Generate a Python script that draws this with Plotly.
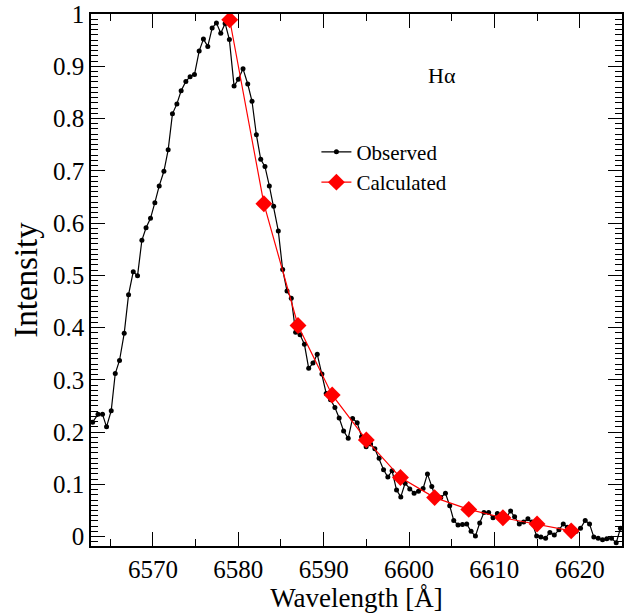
import plotly.graph_objects as go

# Observed spectrum (wavelength in Angstrom, normalized intensity)
obs_wl = [6562.94, 6563.57, 6564.10, 6564.57, 6565.12, 6565.59, 6566.09, 6566.64, 6567.15, 6567.70,
          6568.20, 6568.71, 6569.20, 6569.72, 6570.23, 6570.74, 6571.29, 6571.79, 6572.29, 6572.81,
          6573.31, 6573.86, 6574.36, 6574.87, 6575.42, 6575.92, 6576.43, 6576.94, 6577.44, 6577.95,
          6578.46, 6578.96, 6579.51, 6580.01, 6580.56, 6581.11, 6581.61, 6582.12, 6582.63, 6583.13,
          6583.64, 6584.15, 6584.69, 6585.20, 6585.71, 6586.21, 6586.72, 6587.24, 6587.75, 6588.25,
          6588.75, 6589.25, 6589.80, 6590.30, 6590.81, 6591.32, 6591.82, 6592.34, 6592.88, 6593.39,
          6593.93, 6594.44, 6594.98, 6595.50, 6596.00, 6596.50, 6597.02, 6597.52, 6598.02, 6598.54,
          6599.04, 6599.54, 6600.09, 6600.60, 6601.11, 6601.65, 6602.16, 6602.67, 6603.17, 6603.72,
          6604.27, 6604.77, 6605.24, 6605.74, 6606.26, 6606.76, 6607.27, 6607.78, 6608.28, 6608.78,
          6609.33, 6609.84, 6610.35, 6610.87, 6611.38, 6611.90, 6612.37, 6612.92, 6613.43, 6613.93,
          6614.40, 6614.95, 6615.45, 6616.00, 6616.50, 6617.02, 6617.56, 6618.07, 6618.54, 6619.06,
          6619.59, 6620.09, 6620.64, 6621.15, 6621.65, 6622.16, 6622.67, 6623.17, 6623.72, 6624.27,
          6624.77]
obs_int = [0.219, 0.234, 0.234, 0.210, 0.241, 0.312, 0.337, 0.389, 0.463, 0.507,
           0.499, 0.567, 0.591, 0.609, 0.639, 0.671, 0.699, 0.740, 0.809, 0.828,
           0.853, 0.871, 0.880, 0.884, 0.929, 0.952, 0.938, 0.973, 0.983, 0.963,
           0.982, 0.951, 0.862, 0.875, 0.895, 0.866, 0.833, 0.769, 0.722, 0.708,
           0.671, 0.632, 0.585, 0.511, 0.470, 0.456, 0.391, 0.386, 0.368, 0.322,
           0.332, 0.349, 0.311, 0.274, 0.262, 0.247, 0.227, 0.202, 0.188, 0.226,
           0.218, 0.191, 0.172, 0.177, 0.168, 0.150, 0.128, 0.114, 0.126, 0.089,
           0.076, 0.102, 0.091, 0.083, 0.087, 0.092, 0.120, 0.096, 0.072, 0.075,
           0.083, 0.059, 0.031, 0.022, 0.023, 0.024, 0.010, 0.001, 0.026, 0.046,
           0.046, 0.036, 0.044, 0.040, 0.036, 0.049, 0.038, 0.024, 0.028, 0.034,
           0.028, 0.001, -0.001, -0.003, 0.008, 0.003, 0.013, 0.024, 0.018, 0.012,
           0.010, 0.016, 0.031, 0.024, -0.001, -0.003, -0.006, -0.004, -0.003, -0.012,
           0.016]

# Calculated profile
calc_wl = [6579, 6583, 6587, 6591, 6595, 6599, 6603, 6607, 6611, 6615, 6619]
calc_int = [0.989, 0.637, 0.404, 0.271, 0.185, 0.113, 0.0746, 0.052, 0.036, 0.024, 0.011]

x_ticks = [6570, 6580, 6590, 6600, 6610, 6620]
x_tick_text = ["6570", "6580", "6590", "6600", "6610", "6620"]
y_ticks = [0, 0.1, 0.2, 0.3, 0.4, 0.5, 0.6, 0.7, 0.8, 0.9, 1]
y_tick_text = ["0", "0.1", "0.2", "0.3", "0.4", "0.5", "0.6", "0.7", "0.8", "0.9", "1"]

FONT = "Liberation Serif, Times New Roman, Times, serif"

fig = go.Figure()
fig.add_trace(go.Scatter(
    x=obs_wl, y=obs_int, mode="lines+markers", name="Observed",
    line=dict(color="black", width=1.2),
    marker=dict(color="black", size=5, symbol="circle"),
))
fig.add_trace(go.Scatter(
    x=calc_wl, y=calc_int, mode="lines+markers", name="Calculated",
    line=dict(color="red", width=1.2),
    marker=dict(color="red", size=13, symbol="diamond"),
))

fig.add_annotation(
    x=0.661, y=0.884, xref="paper", yref="paper", text="Hα", showarrow=False,
    font=dict(family=FONT, size=22, color="black"), xanchor="center", yanchor="middle",
)

fig.update_xaxes(
    range=[6562.75, 6624.95], tickmode="array", tickvals=x_ticks, ticktext=x_tick_text,
    showline=True, linecolor="black", linewidth=1.5, mirror="ticks",
    ticks="inside", tickcolor="black", tickwidth=1.2, ticklen=14,
    showgrid=False, zeroline=False, automargin=False,
    tickfont=dict(family=FONT, size=25, color="black"),
    minor=dict(dtick=5, tick0=6565, ticks="inside", ticklen=7, tickcolor="black", tickwidth=1.2),
    title=dict(text="Wavelength [Å]", font=dict(family=FONT, size=27, color="black"), standoff=10),
)
fig.update_yaxes(
    range=[-0.018, 1.0], tickmode="array", tickvals=y_ticks, ticktext=y_tick_text,
    showline=True, linecolor="black", linewidth=1.5, mirror="ticks",
    ticks="inside", tickcolor="black", tickwidth=1.2, ticklen=14,
    showgrid=False, zeroline=False, automargin=False,
    tickfont=dict(family=FONT, size=25, color="black"),
    minor=dict(dtick=0.01, tick0=0, ticks="inside", ticklen=7, tickcolor="black", tickwidth=1.2),
    title=dict(text="Intensity", font=dict(family=FONT, size=33, color="black"), standoff=5),
)

fig.update_layout(
    width=643, height=613,
    font=dict(family=FONT, color="black"),
    margin=dict(l=91, r=21, t=14, b=67, autoexpand=False),
    plot_bgcolor="white", paper_bgcolor="white",
    showlegend=True,
    legend=dict(
        x=0.4245, y=0.712, xanchor="left", yanchor="middle",
        bgcolor="rgba(0,0,0,0)", borderwidth=0,
        font=dict(family=FONT, size=21, color="black"),
        itemwidth=30, tracegroupgap=2,
    ),
)

fig.write_html(
    "out.html",
    config={"displayModeBar": False},
    post_script="document.body.style.margin='0';document.body.style.overflow='hidden';",
)
